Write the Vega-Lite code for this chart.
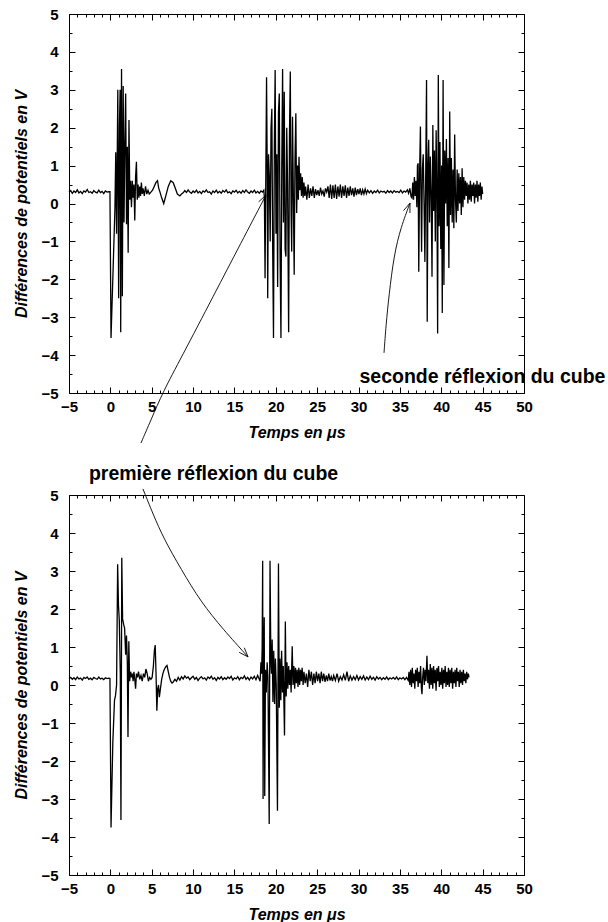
{
  "$schema": "https://vega.github.io/schema/vega-lite/v6.json",
  "background": "white",
  "padding": {"left": 13, "top": 7, "right": 0, "bottom": 0},
  "spacing": 102,
  "bounds": "flush",
  "config": {
    "view": {"stroke": null},
    "font": "Liberation Sans",
    "axis": {
      "grid": false,
      "domainColor": "black",
      "domainWidth": 1,
      "tickColor": "black",
      "tickWidth": 1,
      "labelColor": "black",
      "titleColor": "black",
      "labelFont": "Liberation Sans",
      "labelFontWeight": "bold",
      "labelFontSize": 15,
      "titleFont": "Liberation Sans",
      "titleFontWeight": "bold",
      "titleFontStyle": "italic",
      "titleFontSize": 16,
      "labelOverlap": false,
      "labelFlush": false
    }
  },
  "datasets": {
    "top": [
      {"t": -5.0, "v": 0.30}, {"t": -4.8, "v": 0.34}, {"t": -4.6, "v": 0.27}, {"t": -4.4, "v": 0.33}, {"t": -4.2, "v": 0.29},
      {"t": -4.0, "v": 0.36}, {"t": -3.8, "v": 0.28}, {"t": -3.6, "v": 0.32}, {"t": -3.4, "v": 0.26}, {"t": -3.2, "v": 0.33},
      {"t": -3.0, "v": 0.30}, {"t": -2.8, "v": 0.37}, {"t": -2.6, "v": 0.29}, {"t": -2.4, "v": 0.31}, {"t": -2.2, "v": 0.27},
      {"t": -2.0, "v": 0.34}, {"t": -1.8, "v": 0.30}, {"t": -1.6, "v": 0.28}, {"t": -1.4, "v": 0.35}, {"t": -1.2, "v": 0.29},
      {"t": -1.0, "v": 0.32}, {"t": -0.8, "v": 0.26}, {"t": -0.6, "v": 0.33}, {"t": -0.4, "v": 0.30}, {"t": -0.2, "v": 0.31},
      {"t": -0.05, "v": 0.31},
      {"t": 0.08, "v": -3.55}, {"t": 0.55, "v": -0.15}, {"t": 0.65, "v": 1.35}, {"t": 0.75, "v": -0.8}, {"t": 0.9, "v": 3.0},
      {"t": 1.0, "v": -2.5}, {"t": 1.1, "v": 2.05}, {"t": 1.18, "v": 3.0}, {"t": 1.25, "v": -3.4}, {"t": 1.35, "v": 3.55},
      {"t": 1.45, "v": -2.45}, {"t": 1.55, "v": 3.1}, {"t": 1.65, "v": -0.5}, {"t": 1.75, "v": 1.6}, {"t": 1.85, "v": 2.9},
      {"t": 1.95, "v": -0.55}, {"t": 2.05, "v": 1.5}, {"t": 2.15, "v": -1.3}, {"t": 2.25, "v": 2.2}, {"t": 2.35, "v": 0.1},
      {"t": 2.45, "v": 0.6}, {"t": 2.55, "v": -0.1}, {"t": 2.65, "v": 0.6}, {"t": 2.75, "v": 0.15}, {"t": 2.85, "v": 0.5},
      {"t": 2.95, "v": -0.45}, {"t": 3.05, "v": 0.7}, {"t": 3.15, "v": 1.1}, {"t": 3.25, "v": 0.1}, {"t": 3.35, "v": 0.5},
      {"t": 3.45, "v": 0.15}, {"t": 3.55, "v": 0.45}, {"t": 3.65, "v": 0.2}, {"t": 3.75, "v": 0.55}, {"t": 3.85, "v": 0.25},
      {"t": 3.95, "v": 0.4}, {"t": 4.1, "v": 0.2}, {"t": 4.25, "v": 0.45}, {"t": 4.4, "v": 0.25}, {"t": 4.55, "v": 0.35},
      {"t": 4.7, "v": 0.25}, {"t": 4.9, "v": 0.3}, {"t": 5.1, "v": 0.35}, {"t": 5.3, "v": 0.45}, {"t": 5.5, "v": 0.55},
      {"t": 5.7, "v": 0.6}, {"t": 5.85, "v": 0.4}, {"t": 6.0, "v": 0.3}, {"t": 6.2, "v": 0.15}, {"t": 6.45, "v": 0.0},
      {"t": 6.7, "v": 0.2}, {"t": 7.0, "v": 0.45}, {"t": 7.3, "v": 0.6}, {"t": 7.6, "v": 0.55}, {"t": 7.85, "v": 0.4},
      {"t": 8.1, "v": 0.25}, {"t": 8.4, "v": 0.2}, {"t": 8.6, "v": 0.25},
      {"t": 8.8, "v": 0.28}, {"t": 9.0, "v": 0.34}, {"t": 9.2, "v": 0.29}, {"t": 9.4, "v": 0.36}, {"t": 9.6, "v": 0.30},
      {"t": 9.8, "v": 0.27}, {"t": 10.0, "v": 0.33}, {"t": 10.2, "v": 0.29}, {"t": 10.4, "v": 0.35}, {"t": 10.6, "v": 0.28},
      {"t": 10.8, "v": 0.32}, {"t": 11.0, "v": 0.26}, {"t": 11.2, "v": 0.33}, {"t": 11.4, "v": 0.30}, {"t": 11.6, "v": 0.36},
      {"t": 11.8, "v": 0.29}, {"t": 12.0, "v": 0.31}, {"t": 12.2, "v": 0.25}, {"t": 12.4, "v": 0.33}, {"t": 12.6, "v": 0.29},
      {"t": 12.8, "v": 0.35}, {"t": 13.0, "v": 0.28}, {"t": 13.2, "v": 0.32}, {"t": 13.4, "v": 0.27}, {"t": 13.6, "v": 0.34},
      {"t": 13.8, "v": 0.30}, {"t": 14.0, "v": 0.36}, {"t": 14.2, "v": 0.28}, {"t": 14.4, "v": 0.31}, {"t": 14.6, "v": 0.26},
      {"t": 14.8, "v": 0.33}, {"t": 15.0, "v": 0.30}, {"t": 15.2, "v": 0.35}, {"t": 15.4, "v": 0.28}, {"t": 15.6, "v": 0.32},
      {"t": 15.8, "v": 0.27}, {"t": 16.0, "v": 0.34}, {"t": 16.2, "v": 0.29}, {"t": 16.4, "v": 0.36}, {"t": 16.6, "v": 0.30},
      {"t": 16.8, "v": 0.27}, {"t": 17.0, "v": 0.33}, {"t": 17.2, "v": 0.29}, {"t": 17.4, "v": 0.35}, {"t": 17.6, "v": 0.28},
      {"t": 17.8, "v": 0.32}, {"t": 18.0, "v": 0.27}, {"t": 18.2, "v": 0.33}, {"t": 18.4, "v": 0.30},
      {"t": 18.55, "v": 0.35}, {"t": 18.62, "v": 0.15}, {"t": 18.7, "v": -1.97}, {"t": 18.8, "v": 1.0}, {"t": 18.88, "v": 3.33},
      {"t": 18.96, "v": 0.9}, {"t": 19.02, "v": -2.5}, {"t": 19.12, "v": 1.3}, {"t": 19.22, "v": 0.7}, {"t": 19.32, "v": -1.0},
      {"t": 19.42, "v": 2.0}, {"t": 19.52, "v": 2.5}, {"t": 19.62, "v": -1.2}, {"t": 19.72, "v": -3.55}, {"t": 19.82, "v": 1.5},
      {"t": 19.92, "v": 3.52}, {"t": 20.02, "v": -0.8}, {"t": 20.12, "v": 1.3}, {"t": 20.22, "v": -2.2}, {"t": 20.32, "v": 2.4},
      {"t": 20.42, "v": 2.9}, {"t": 20.52, "v": -1.5}, {"t": 20.62, "v": -3.55}, {"t": 20.72, "v": 1.0}, {"t": 20.82, "v": 3.55},
      {"t": 20.92, "v": -0.5}, {"t": 21.02, "v": 2.95}, {"t": 21.12, "v": -1.2}, {"t": 21.22, "v": -1.4}, {"t": 21.32, "v": 2.0},
      {"t": 21.42, "v": 0.5}, {"t": 21.55, "v": -3.4}, {"t": 21.65, "v": 1.8}, {"t": 21.75, "v": 3.48}, {"t": 21.85, "v": -0.3},
      {"t": 21.92, "v": -1.27}, {"t": 22.02, "v": 2.29}, {"t": 22.12, "v": 0.2}, {"t": 22.22, "v": -1.88}, {"t": 22.32, "v": 1.2},
      {"t": 22.42, "v": 2.38}, {"t": 22.52, "v": -0.25}, {"t": 22.62, "v": 1.0}, {"t": 22.72, "v": 0.1}, {"t": 22.8, "v": 1.23},
      {"t": 22.9, "v": 0.35}, {"t": 23.0, "v": 0.8}, {"t": 23.1, "v": 0.2}, {"t": 23.2, "v": 0.7}, {"t": 23.3, "v": 0.15},
      {"t": 23.4, "v": 0.55}, {"t": 23.5, "v": 0.2},
      {"t": 23.6, "v": 0.45}, {"t": 23.75, "v": 0.1}, {"t": 23.9, "v": 0.5}, {"t": 24.05, "v": 0.15}, {"t": 24.2, "v": 0.4},
      {"t": 24.35, "v": 0.2}, {"t": 24.5, "v": 0.45}, {"t": 24.65, "v": 0.15}, {"t": 24.8, "v": 0.38}, {"t": 24.95, "v": 0.22},
      {"t": 25.1, "v": 0.35}, {"t": 25.25, "v": 0.2}, {"t": 25.4, "v": 0.42}, {"t": 25.55, "v": 0.25}, {"t": 25.7, "v": 0.33},
      {"t": 25.85, "v": 0.18}, {"t": 26.0, "v": 0.4}, {"t": 26.15, "v": 0.3}, {"t": 26.3, "v": 0.45}, {"t": 26.45, "v": 0.15},
      {"t": 26.6, "v": 0.5}, {"t": 26.75, "v": 0.12}, {"t": 26.9, "v": 0.48}, {"t": 27.05, "v": 0.15}, {"t": 27.2, "v": 0.5},
      {"t": 27.35, "v": 0.12}, {"t": 27.5, "v": 0.45}, {"t": 27.65, "v": 0.18}, {"t": 27.8, "v": 0.5}, {"t": 27.95, "v": 0.15},
      {"t": 28.1, "v": 0.45}, {"t": 28.25, "v": 0.2}, {"t": 28.4, "v": 0.48}, {"t": 28.55, "v": 0.15}, {"t": 28.7, "v": 0.42},
      {"t": 28.85, "v": 0.2}, {"t": 29.0, "v": 0.45}, {"t": 29.15, "v": 0.22}, {"t": 29.3, "v": 0.4}, {"t": 29.45, "v": 0.18},
      {"t": 29.6, "v": 0.42}, {"t": 29.75, "v": 0.22}, {"t": 29.9, "v": 0.38}, {"t": 30.05, "v": 0.25}, {"t": 30.2, "v": 0.4},
      {"t": 30.35, "v": 0.22}, {"t": 30.5, "v": 0.36}, {"t": 30.65, "v": 0.25}, {"t": 30.8, "v": 0.38}, {"t": 30.95, "v": 0.26},
      {"t": 31.1, "v": 0.35}, {"t": 31.3, "v": 0.28}, {"t": 31.5, "v": 0.34}, {"t": 31.7, "v": 0.27}, {"t": 31.9, "v": 0.33},
      {"t": 32.1, "v": 0.29}, {"t": 32.3, "v": 0.35}, {"t": 32.5, "v": 0.28}, {"t": 32.7, "v": 0.33}, {"t": 32.9, "v": 0.30},
      {"t": 33.1, "v": 0.32}, {"t": 33.3, "v": 0.27}, {"t": 33.5, "v": 0.34}, {"t": 33.7, "v": 0.29}, {"t": 33.9, "v": 0.33},
      {"t": 34.1, "v": 0.28}, {"t": 34.3, "v": 0.34}, {"t": 34.5, "v": 0.30}, {"t": 34.7, "v": 0.32}, {"t": 34.9, "v": 0.29},
      {"t": 35.1, "v": 0.35}, {"t": 35.3, "v": 0.28}, {"t": 35.5, "v": 0.33}, {"t": 35.7, "v": 0.30}, {"t": 35.9, "v": 0.36},
      {"t": 36.05, "v": 0.27}, {"t": 36.2, "v": 0.40}, {"t": 36.35, "v": 0.18},
      {"t": 36.45, "v": 0.15}, {"t": 36.55, "v": 0.55}, {"t": 36.65, "v": 0.1}, {"t": 36.75, "v": 0.7}, {"t": 36.85, "v": 0.2},
      {"t": 36.95, "v": 0.6}, {"t": 37.05, "v": -0.1}, {"t": 37.12, "v": 1.0}, {"t": 37.2, "v": 1.06}, {"t": 37.28, "v": -1.8},
      {"t": 37.38, "v": 0.8}, {"t": 37.48, "v": 2.03}, {"t": 37.55, "v": 0.2}, {"t": 37.62, "v": -1.27}, {"t": 37.72, "v": 0.9},
      {"t": 37.82, "v": 1.3}, {"t": 37.92, "v": 0.0}, {"t": 38.02, "v": -1.54}, {"t": 38.12, "v": 0.8}, {"t": 38.22, "v": 3.26},
      {"t": 38.3, "v": -3.12}, {"t": 38.4, "v": 1.0}, {"t": 38.48, "v": 1.68}, {"t": 38.58, "v": -0.5}, {"t": 38.68, "v": 1.24},
      {"t": 38.78, "v": 0.3}, {"t": 38.88, "v": -1.93}, {"t": 38.98, "v": 2.07}, {"t": 39.08, "v": -0.2}, {"t": 39.18, "v": 1.4},
      {"t": 39.28, "v": -1.0}, {"t": 39.38, "v": 1.93}, {"t": 39.48, "v": 0.1}, {"t": 39.56, "v": -3.43}, {"t": 39.64, "v": 3.39},
      {"t": 39.74, "v": -0.6}, {"t": 39.84, "v": 1.62}, {"t": 39.94, "v": -1.2}, {"t": 40.04, "v": 1.0}, {"t": 40.12, "v": -2.89},
      {"t": 40.22, "v": 3.26}, {"t": 40.32, "v": -2.15}, {"t": 40.42, "v": 1.4}, {"t": 40.52, "v": 0.0}, {"t": 40.62, "v": 1.7},
      {"t": 40.72, "v": -0.6}, {"t": 40.82, "v": 1.2}, {"t": 40.92, "v": -1.7}, {"t": 41.02, "v": 2.43}, {"t": 41.12, "v": -0.3},
      {"t": 41.22, "v": 1.2}, {"t": 41.32, "v": -0.5}, {"t": 41.42, "v": 0.9}, {"t": 41.52, "v": -0.65}, {"t": 41.62, "v": 1.82},
      {"t": 41.72, "v": 0.1}, {"t": 41.82, "v": -0.5}, {"t": 41.92, "v": 0.9}, {"t": 42.02, "v": -0.2}, {"t": 42.12, "v": 0.8},
      {"t": 42.22, "v": 0.0}, {"t": 42.32, "v": 0.7}, {"t": 42.42, "v": -0.3}, {"t": 42.52, "v": 0.93}, {"t": 42.62, "v": -0.1},
      {"t": 42.72, "v": 0.7}, {"t": 42.82, "v": 0.1}, {"t": 42.92, "v": 0.6}, {"t": 43.02, "v": 0.2}, {"t": 43.12, "v": 0.55},
      {"t": 43.22, "v": 0.0}, {"t": 43.32, "v": 0.5}, {"t": 43.42, "v": 0.1}, {"t": 43.52, "v": 0.6}, {"t": 43.62, "v": 0.05},
      {"t": 43.72, "v": 0.5}, {"t": 43.82, "v": 0.2}, {"t": 43.92, "v": 0.55}, {"t": 44.02, "v": 0.0}, {"t": 44.12, "v": 0.5},
      {"t": 44.22, "v": 0.15}, {"t": 44.32, "v": 0.6}, {"t": 44.42, "v": 0.05}, {"t": 44.52, "v": 0.5}, {"t": 44.62, "v": 0.2},
      {"t": 44.72, "v": 0.55}, {"t": 44.82, "v": 0.1}, {"t": 44.92, "v": 0.45}, {"t": 45.0, "v": 0.25}
    ],
    "bottom": [
      {"t": -5.0, "v": 0.17}, {"t": -4.8, "v": 0.20}, {"t": -4.6, "v": 0.15}, {"t": -4.4, "v": 0.19}, {"t": -4.2, "v": 0.14},
      {"t": -4.0, "v": 0.21}, {"t": -3.8, "v": 0.16}, {"t": -3.6, "v": 0.18}, {"t": -3.4, "v": 0.13}, {"t": -3.2, "v": 0.20},
      {"t": -3.0, "v": 0.17}, {"t": -2.8, "v": 0.21}, {"t": -2.6, "v": 0.15}, {"t": -2.4, "v": 0.18}, {"t": -2.2, "v": 0.14},
      {"t": -2.0, "v": 0.20}, {"t": -1.8, "v": 0.17}, {"t": -1.6, "v": 0.15}, {"t": -1.4, "v": 0.21}, {"t": -1.2, "v": 0.16},
      {"t": -1.0, "v": 0.18}, {"t": -0.8, "v": 0.14}, {"t": -0.6, "v": 0.19}, {"t": -0.4, "v": 0.17}, {"t": -0.2, "v": 0.18},
      {"t": -0.05, "v": 0.17},
      {"t": 0.08, "v": -3.75}, {"t": 0.3, "v": -1.5}, {"t": 0.5, "v": -0.4}, {"t": 0.62, "v": -0.28}, {"t": 0.75, "v": 0.0},
      {"t": 0.88, "v": 3.18}, {"t": 0.98, "v": 2.1}, {"t": 1.08, "v": 1.7}, {"t": 1.2, "v": 0.3}, {"t": 1.28, "v": -3.55},
      {"t": 1.38, "v": 3.35}, {"t": 1.48, "v": 1.74}, {"t": 1.6, "v": 1.6}, {"t": 1.72, "v": 1.5}, {"t": 1.85, "v": 0.8},
      {"t": 1.95, "v": 1.3}, {"t": 2.05, "v": 0.6}, {"t": 2.13, "v": -1.37}, {"t": 2.23, "v": 1.15}, {"t": 2.33, "v": 0.1},
      {"t": 2.45, "v": 0.35}, {"t": 2.55, "v": 0.2}, {"t": 2.65, "v": 0.3}, {"t": 2.75, "v": 0.1}, {"t": 2.85, "v": 0.35},
      {"t": 2.95, "v": 0.15}, {"t": 3.05, "v": -0.1}, {"t": 3.15, "v": 0.3}, {"t": 3.28, "v": 0.2}, {"t": 3.4, "v": 0.35},
      {"t": 3.55, "v": 0.15}, {"t": 3.7, "v": 0.25}, {"t": 3.85, "v": 0.1}, {"t": 4.0, "v": 0.3}, {"t": 4.15, "v": 0.2},
      {"t": 4.3, "v": 0.42}, {"t": 4.45, "v": 0.3}, {"t": 4.6, "v": 0.1}, {"t": 4.75, "v": 0.2}, {"t": 4.9, "v": 0.15},
      {"t": 5.05, "v": 0.2}, {"t": 5.2, "v": 0.5}, {"t": 5.32, "v": 0.9}, {"t": 5.42, "v": 1.05}, {"t": 5.52, "v": 0.3},
      {"t": 5.62, "v": -0.68}, {"t": 5.72, "v": -0.1}, {"t": 5.82, "v": 0.0}, {"t": 5.92, "v": -0.32}, {"t": 6.05, "v": -0.1},
      {"t": 6.2, "v": 0.15}, {"t": 6.35, "v": 0.3}, {"t": 6.5, "v": 0.4}, {"t": 6.7, "v": 0.48}, {"t": 6.85, "v": 0.51},
      {"t": 7.0, "v": 0.35}, {"t": 7.15, "v": 0.2}, {"t": 7.3, "v": 0.1}, {"t": 7.45, "v": 0.05}, {"t": 7.6, "v": 0.08},
      {"t": 7.8, "v": 0.15}, {"t": 8.0, "v": 0.1},
      {"t": 8.2, "v": 0.20}, {"t": 8.4, "v": 0.13}, {"t": 8.6, "v": 0.22}, {"t": 8.8, "v": 0.16}, {"t": 9.0, "v": 0.24},
      {"t": 9.2, "v": 0.18}, {"t": 9.4, "v": 0.21}, {"t": 9.6, "v": 0.14}, {"t": 9.8, "v": 0.19}, {"t": 10.0, "v": 0.23},
      {"t": 10.2, "v": 0.15}, {"t": 10.4, "v": 0.20}, {"t": 10.6, "v": 0.12}, {"t": 10.8, "v": 0.18}, {"t": 11.0, "v": 0.22},
      {"t": 11.2, "v": 0.16}, {"t": 11.4, "v": 0.19}, {"t": 11.6, "v": 0.13}, {"t": 11.8, "v": 0.21}, {"t": 12.0, "v": 0.17},
      {"t": 12.2, "v": 0.23}, {"t": 12.4, "v": 0.15}, {"t": 12.6, "v": 0.19}, {"t": 12.8, "v": 0.12}, {"t": 13.0, "v": 0.20},
      {"t": 13.2, "v": 0.16}, {"t": 13.4, "v": 0.22}, {"t": 13.6, "v": 0.14}, {"t": 13.8, "v": 0.19}, {"t": 14.0, "v": 0.15},
      {"t": 14.2, "v": 0.21}, {"t": 14.4, "v": 0.17}, {"t": 14.6, "v": 0.23}, {"t": 14.8, "v": 0.13}, {"t": 15.0, "v": 0.19},
      {"t": 15.2, "v": 0.16}, {"t": 15.4, "v": 0.22}, {"t": 15.6, "v": 0.14}, {"t": 15.8, "v": 0.20}, {"t": 16.0, "v": 0.17},
      {"t": 16.2, "v": 0.24}, {"t": 16.4, "v": 0.15}, {"t": 16.6, "v": 0.20}, {"t": 16.8, "v": 0.13}, {"t": 17.0, "v": 0.21},
      {"t": 17.2, "v": 0.16}, {"t": 17.4, "v": 0.23}, {"t": 17.6, "v": 0.14}, {"t": 17.8, "v": 0.25}, {"t": 18.0, "v": 0.15},
      {"t": 18.1, "v": 0.1}, {"t": 18.2, "v": 0.6}, {"t": 18.28, "v": 0.3}, {"t": 18.35, "v": 0.99}, {"t": 18.41, "v": 3.27},
      {"t": 18.46, "v": -3.0}, {"t": 18.52, "v": 0.5}, {"t": 18.6, "v": 1.78}, {"t": 18.66, "v": -2.92}, {"t": 18.75, "v": 0.4},
      {"t": 18.85, "v": -0.2}, {"t": 18.95, "v": 0.6}, {"t": 19.05, "v": 0.2}, {"t": 19.2, "v": -3.66}, {"t": 19.3, "v": 3.27},
      {"t": 19.4, "v": 0.6}, {"t": 19.48, "v": 0.3}, {"t": 19.56, "v": 1.2}, {"t": 19.65, "v": -0.45}, {"t": 19.75, "v": 0.9},
      {"t": 19.85, "v": -0.5}, {"t": 19.95, "v": 0.7}, {"t": 20.05, "v": 0.0}, {"t": 20.2, "v": -3.31}, {"t": 20.32, "v": 3.2},
      {"t": 20.42, "v": -0.6}, {"t": 20.5, "v": 0.7}, {"t": 20.6, "v": -0.4}, {"t": 20.7, "v": 0.9}, {"t": 20.8, "v": -0.2},
      {"t": 20.9, "v": 0.5}, {"t": 21.05, "v": -1.33}, {"t": 21.15, "v": 1.67}, {"t": 21.25, "v": -0.3}, {"t": 21.35, "v": 0.6},
      {"t": 21.45, "v": -0.1}, {"t": 21.55, "v": 0.5}, {"t": 21.65, "v": 0.0}, {"t": 21.75, "v": 0.4}, {"t": 21.85, "v": -0.2},
      {"t": 21.98, "v": 1.02}, {"t": 22.08, "v": 0.0}, {"t": 22.18, "v": 0.5}, {"t": 22.28, "v": -0.1}, {"t": 22.38, "v": 0.45},
      {"t": 22.48, "v": 0.05}, {"t": 22.58, "v": 0.4}, {"t": 22.68, "v": -0.05}, {"t": 22.78, "v": 0.45}, {"t": 22.88, "v": 0.0},
      {"t": 22.98, "v": 0.4}, {"t": 23.08, "v": 0.1}, {"t": 23.18, "v": 0.45}, {"t": 23.3, "v": 0.0},
      {"t": 23.4, "v": 0.35}, {"t": 23.55, "v": 0.05}, {"t": 23.7, "v": 0.3}, {"t": 23.85, "v": -0.05}, {"t": 24.0, "v": 0.4},
      {"t": 24.15, "v": 0.1}, {"t": 24.3, "v": 0.35}, {"t": 24.45, "v": 0.0}, {"t": 24.6, "v": 0.3}, {"t": 24.75, "v": 0.05},
      {"t": 24.9, "v": 0.35}, {"t": 25.05, "v": 0.1}, {"t": 25.2, "v": 0.3}, {"t": 25.35, "v": 0.05}, {"t": 25.5, "v": 0.35},
      {"t": 25.65, "v": 0.1}, {"t": 25.8, "v": 0.3}, {"t": 25.95, "v": 0.08}, {"t": 26.1, "v": 0.25}, {"t": 26.25, "v": 0.1},
      {"t": 26.4, "v": 0.3}, {"t": 26.55, "v": 0.12}, {"t": 26.7, "v": 0.22}, {"t": 26.85, "v": 0.1}, {"t": 27.0, "v": 0.25},
      {"t": 27.2, "v": 0.12}, {"t": 27.4, "v": 0.3}, {"t": 27.6, "v": 0.1}, {"t": 27.8, "v": 0.22}, {"t": 28.0, "v": 0.13},
      {"t": 28.2, "v": 0.27}, {"t": 28.4, "v": 0.12}, {"t": 28.6, "v": 0.35}, {"t": 28.8, "v": 0.1}, {"t": 29.0, "v": 0.24},
      {"t": 29.2, "v": 0.13}, {"t": 29.4, "v": 0.22}, {"t": 29.6, "v": 0.14}, {"t": 29.8, "v": 0.25}, {"t": 30.0, "v": 0.13},
      {"t": 30.2, "v": 0.22}, {"t": 30.4, "v": 0.15}, {"t": 30.6, "v": 0.24}, {"t": 30.8, "v": 0.13}, {"t": 31.0, "v": 0.21},
      {"t": 31.2, "v": 0.14}, {"t": 31.4, "v": 0.23}, {"t": 31.6, "v": 0.15}, {"t": 31.8, "v": 0.2}, {"t": 32.0, "v": 0.13},
      {"t": 32.2, "v": 0.22}, {"t": 32.4, "v": 0.16}, {"t": 32.6, "v": 0.2}, {"t": 32.8, "v": 0.14}, {"t": 33.0, "v": 0.19},
      {"t": 33.2, "v": 0.15}, {"t": 33.4, "v": 0.21}, {"t": 33.6, "v": 0.14}, {"t": 33.8, "v": 0.19}, {"t": 34.0, "v": 0.16},
      {"t": 34.2, "v": 0.2}, {"t": 34.4, "v": 0.15}, {"t": 34.6, "v": 0.21}, {"t": 34.8, "v": 0.14}, {"t": 35.0, "v": 0.19},
      {"t": 35.2, "v": 0.16}, {"t": 35.4, "v": 0.2}, {"t": 35.6, "v": 0.14}, {"t": 35.8, "v": 0.2}, {"t": 36.0, "v": 0.12},
      {"t": 36.1, "v": 0.35}, {"t": 36.2, "v": 0.0}, {"t": 36.3, "v": 0.4}, {"t": 36.4, "v": -0.05}, {"t": 36.5, "v": 0.45},
      {"t": 36.6, "v": 0.05}, {"t": 36.7, "v": 0.3}, {"t": 36.8, "v": -0.1}, {"t": 36.9, "v": 0.4}, {"t": 37.0, "v": 0.1},
      {"t": 37.1, "v": 0.45}, {"t": 37.2, "v": -0.05}, {"t": 37.3, "v": 0.35}, {"t": 37.4, "v": 0.05}, {"t": 37.5, "v": 0.5},
      {"t": 37.6, "v": -0.1}, {"t": 37.67, "v": -0.24}, {"t": 37.75, "v": 0.2}, {"t": 37.85, "v": 0.45}, {"t": 37.95, "v": 0.0},
      {"t": 38.05, "v": 0.4}, {"t": 38.15, "v": 0.1}, {"t": 38.27, "v": 0.77}, {"t": 38.37, "v": 0.05}, {"t": 38.47, "v": 0.4},
      {"t": 38.57, "v": -0.1}, {"t": 38.67, "v": 0.55}, {"t": 38.77, "v": 0.0}, {"t": 38.87, "v": 0.45}, {"t": 38.97, "v": -0.1},
      {"t": 39.07, "v": 0.5}, {"t": 39.17, "v": 0.05}, {"t": 39.27, "v": 0.4}, {"t": 39.37, "v": -0.15}, {"t": 39.47, "v": 0.45},
      {"t": 39.57, "v": 0.1}, {"t": 39.67, "v": 0.5}, {"t": 39.77, "v": -0.05}, {"t": 39.87, "v": 0.35}, {"t": 39.97, "v": 0.0},
      {"t": 40.07, "v": 0.45}, {"t": 40.17, "v": -0.1}, {"t": 40.27, "v": 0.4}, {"t": 40.37, "v": 0.05}, {"t": 40.47, "v": 0.5},
      {"t": 40.57, "v": -0.05}, {"t": 40.67, "v": 0.35}, {"t": 40.77, "v": 0.0}, {"t": 40.87, "v": 0.45}, {"t": 40.97, "v": -0.05},
      {"t": 41.07, "v": 0.4}, {"t": 41.17, "v": 0.05}, {"t": 41.27, "v": 0.45}, {"t": 41.37, "v": -0.1}, {"t": 41.47, "v": 0.35},
      {"t": 41.57, "v": 0.05}, {"t": 41.67, "v": 0.4}, {"t": 41.77, "v": -0.05}, {"t": 41.87, "v": 0.45}, {"t": 41.97, "v": 0.1},
      {"t": 42.07, "v": 0.35}, {"t": 42.17, "v": -0.05}, {"t": 42.27, "v": 0.4}, {"t": 42.37, "v": 0.05}, {"t": 42.47, "v": 0.35},
      {"t": 42.57, "v": 0.0}, {"t": 42.67, "v": 0.4}, {"t": 42.77, "v": 0.1}, {"t": 42.87, "v": 0.3}, {"t": 42.97, "v": 0.05},
      {"t": 43.07, "v": 0.35}, {"t": 43.17, "v": 0.15}, {"t": 43.27, "v": 0.3}, {"t": 43.35, "v": 0.2}
    ],
    "topArrows": [
      {"id": "A", "t": 3.70, "v": -6.32}, {"id": "A", "t": 4.91, "v": -5.71}, {"id": "A", "t": 6.36, "v": -4.97},
      {"id": "A", "t": 8.54, "v": -4.08}, {"id": "A", "t": 12.53, "v": -2.41}, {"id": "A", "t": 15.79, "v": -1.04},
      {"id": "A", "t": 18.81, "v": 0.22},
      {"id": "B", "t": 33.08, "v": -3.94}, {"id": "B", "t": 33.32, "v": -3.21}, {"id": "B", "t": 33.68, "v": -2.42},
      {"id": "B", "t": 34.28, "v": -1.36}, {"id": "B", "t": 35.13, "v": -0.62}, {"id": "B", "t": 36.22, "v": 0.01}
    ],
    "topHeads": [
      {"seg": "a1", "t": 17.92, "v": 0.045}, {"seg": "a1", "t": 18.81, "v": 0.22},
      {"seg": "a2", "t": 18.66, "v": -0.04}, {"seg": "a2", "t": 18.81, "v": 0.22},
      {"seg": "b1", "t": 35.43, "v": -0.19}, {"seg": "b1", "t": 36.22, "v": 0.01},
      {"seg": "b2", "t": 36.21, "v": -0.25}, {"seg": "b2", "t": 36.22, "v": 0.01}
    ],
    "topText": [{"t": 44.98, "v": -4.58, "label": "seconde réflexion du cube"}],
    "bottomArrows": [
      {"id": "C", "t": 3.94, "v": 5.16}, {"id": "C", "t": 5.15, "v": 4.5}, {"id": "C", "t": 6.48, "v": 3.84},
      {"id": "C", "t": 8.54, "v": 3.05}, {"id": "C", "t": 10.96, "v": 2.18}, {"id": "C", "t": 13.61, "v": 1.47},
      {"id": "C", "t": 16.64, "v": 0.74}
    ],
    "bottomHeads": [
      {"seg": "c1", "t": 16.19, "v": 0.98}, {"seg": "c1", "t": 16.64, "v": 0.74},
      {"seg": "c2", "t": 15.57, "v": 0.86}, {"seg": "c2", "t": 16.64, "v": 0.74}
    ],
    "bottomText": [{"t": 12.47, "v": 5.55, "label": "première réflexion du cube"}]
  },
  "vconcat": [
    {
      "width": 455,
      "height": 379,
      "resolve": {"axis": {"x": "independent", "y": "independent"}},
      "layer": [
        {
          "data": {"name": "top"},
          "mark": {"type": "line", "color": "black", "strokeWidth": 1.3},
          "encoding": {
            "x": {"field": "t", "type": "quantitative", "scale": {"domain": [-5, 50], "nice": false, "zero": false},
              "axis": {"orient": "bottom", "title": "Temps en μs", "values": [-5,-4,-3,-2,-1,0,1,2,3,4,5,6,7,8,9,10,11,12,13,14,15,16,17,18,19,20,21,22,23,24,25,26,27,28,29,30,31,32,33,34,35,36,37,38,39,40,41,42,43,44,45,46,47,48,49,50],
                "labelExpr": "datum.value % 5 === 0 ? datum.label : ''",
                "tickSize": {"condition": {"test": "datum.value % 5 === 0", "value": -6}, "value": -3},
                "labelPadding": 12, "titlePadding": 7}},
            "y": {"field": "v", "type": "quantitative", "scale": {"domain": [-5, 5], "nice": false, "zero": false},
              "axis": {"orient": "left", "title": "Différences de potentiels en V", "values": [-5,-4.5,-4,-3.5,-3,-2.5,-2,-1.5,-1,-0.5,0,0.5,1,1.5,2,2.5,3,3.5,4,4.5,5],
                "labelExpr": "datum.value % 1 === 0 ? format(datum.value, 'd') : ''",
                "tickSize": {"condition": {"test": "datum.value % 1 === 0", "value": -6}, "value": -3},
                "labelPadding": 17, "titlePadding": 11}}
          }
        },
        {
          "data": {"name": "topArrows"},
          "mark": {"type": "line", "color": "black", "strokeWidth": 0.9, "interpolate": "basis"},
          "encoding": {
            "x": {"field": "t", "type": "quantitative",
              "axis": {"orient": "top", "title": null, "labels": false, "values": [-5,-4,-3,-2,-1,0,1,2,3,4,5,6,7,8,9,10,11,12,13,14,15,16,17,18,19,20,21,22,23,24,25,26,27,28,29,30,31,32,33,34,35,36,37,38,39,40,41,42,43,44,45,46,47,48,49,50],
                "tickSize": {"condition": {"test": "datum.value % 5 === 0", "value": -6}, "value": -3}}},
            "y": {"field": "v", "type": "quantitative",
              "axis": {"orient": "right", "title": null, "labels": false, "values": [-5,-4.5,-4,-3.5,-3,-2.5,-2,-1.5,-1,-0.5,0,0.5,1,1.5,2,2.5,3,3.5,4,4.5,5],
                "tickSize": {"condition": {"test": "datum.value % 1 === 0", "value": -6}, "value": -3}}},
            "detail": {"field": "id"}
          }
        },
        {
          "data": {"name": "topHeads"},
          "mark": {"type": "line", "color": "black", "strokeWidth": 0.9},
          "encoding": {
            "x": {"field": "t", "type": "quantitative", "axis": null},
            "y": {"field": "v", "type": "quantitative", "axis": null},
            "detail": {"field": "seg"}
          }
        },
        {
          "data": {"name": "topText"},
          "mark": {"type": "text", "font": "Liberation Sans", "fontWeight": "bold", "fontSize": 19.5, "align": "center", "baseline": "middle", "color": "black"},
          "encoding": {
            "x": {"field": "t", "type": "quantitative", "axis": null},
            "y": {"field": "v", "type": "quantitative", "axis": null},
            "text": {"field": "label"}
          }
        }
      ]
    },
    {
      "width": 455,
      "height": 380,
      "resolve": {"axis": {"x": "independent", "y": "independent"}},
      "layer": [
        {
          "data": {"name": "bottom"},
          "mark": {"type": "line", "color": "black", "strokeWidth": 1.3},
          "encoding": {
            "x": {"field": "t", "type": "quantitative", "scale": {"domain": [-5, 50], "nice": false, "zero": false},
              "axis": {"orient": "bottom", "title": "Temps en μs", "values": [-5,-4,-3,-2,-1,0,1,2,3,4,5,6,7,8,9,10,11,12,13,14,15,16,17,18,19,20,21,22,23,24,25,26,27,28,29,30,31,32,33,34,35,36,37,38,39,40,41,42,43,44,45,46,47,48,49,50],
                "labelExpr": "datum.value % 5 === 0 ? datum.label : ''",
                "tickSize": {"condition": {"test": "datum.value % 5 === 0", "value": -6}, "value": -3},
                "labelPadding": 12, "titlePadding": 7}},
            "y": {"field": "v", "type": "quantitative", "scale": {"domain": [-5, 5], "nice": false, "zero": false},
              "axis": {"orient": "left", "title": "Différences de potentiels en V", "values": [-5,-4.5,-4,-3.5,-3,-2.5,-2,-1.5,-1,-0.5,0,0.5,1,1.5,2,2.5,3,3.5,4,4.5,5],
                "labelExpr": "datum.value % 1 === 0 ? format(datum.value, 'd') : ''",
                "tickSize": {"condition": {"test": "datum.value % 1 === 0", "value": -6}, "value": -3},
                "labelPadding": 17, "titlePadding": 11}}
          }
        },
        {
          "data": {"name": "bottomArrows"},
          "mark": {"type": "line", "color": "black", "strokeWidth": 0.9, "interpolate": "basis"},
          "encoding": {
            "x": {"field": "t", "type": "quantitative",
              "axis": {"orient": "top", "title": null, "labels": false, "values": [-5,-4,-3,-2,-1,0,1,2,3,4,5,6,7,8,9,10,11,12,13,14,15,16,17,18,19,20,21,22,23,24,25,26,27,28,29,30,31,32,33,34,35,36,37,38,39,40,41,42,43,44,45,46,47,48,49,50],
                "tickSize": {"condition": {"test": "datum.value % 5 === 0", "value": -6}, "value": -3}}},
            "y": {"field": "v", "type": "quantitative",
              "axis": {"orient": "right", "title": null, "labels": false, "values": [-5,-4.5,-4,-3.5,-3,-2.5,-2,-1.5,-1,-0.5,0,0.5,1,1.5,2,2.5,3,3.5,4,4.5,5],
                "tickSize": {"condition": {"test": "datum.value % 1 === 0", "value": -6}, "value": -3}}},
            "detail": {"field": "id"}
          }
        },
        {
          "data": {"name": "bottomHeads"},
          "mark": {"type": "line", "color": "black", "strokeWidth": 0.9},
          "encoding": {
            "x": {"field": "t", "type": "quantitative", "axis": null},
            "y": {"field": "v", "type": "quantitative", "axis": null},
            "detail": {"field": "seg"}
          }
        },
        {
          "data": {"name": "bottomText"},
          "mark": {"type": "text", "font": "Liberation Sans", "fontWeight": "bold", "fontSize": 19.5, "align": "center", "baseline": "middle", "color": "black"},
          "encoding": {
            "x": {"field": "t", "type": "quantitative", "axis": null},
            "y": {"field": "v", "type": "quantitative", "axis": null},
            "text": {"field": "label"}
          }
        }
      ]
    }
  ]
}
